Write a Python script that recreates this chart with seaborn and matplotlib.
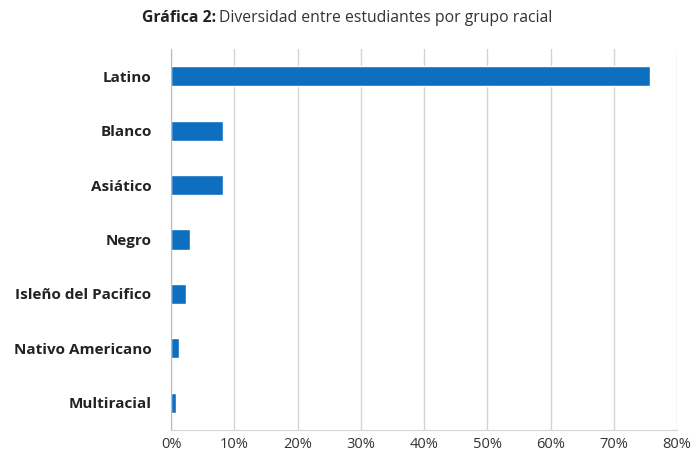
import pandas as pd
import numpy as np
import matplotlib.pyplot as plt
import seaborn as sns

grupos = ['Latino', 'Blanco', 'Asiático', 'Negro', 'Isleño del Pacifico',
          'Nativo Americano', 'Multiracial']
porcentajes = [75.8, 8.2, 8.2, 3.0, 2.3, 1.3, 0.8]

data = pd.DataFrame({'grupo': grupos, 'pct': porcentajes})

sns.set_style('white')
plt.rcParams['font.family'] = ['Open Sans', 'DejaVu Sans']

fig = plt.figure(figsize=(6.93, 4.63), dpi=100)
ax = fig.add_axes([171 / 693, 33 / 463, 506 / 693, 381 / 463])

sns.barplot(data=data, x='pct', y='grupo', color='#0E6FC1', width=0.37,
            saturation=1, ax=ax)

ax.set_xlim(0, 80)
ax.set_xticks(np.arange(0, 81, 10))
ax.set_xticklabels([f'{v}%' for v in range(0, 81, 10)], fontsize=10.5, color='#333333')
ax.set_yticklabels(grupos, fontsize=11, fontweight='bold', color='#222222')
ax.tick_params(axis='y', length=0, pad=14)
ax.tick_params(axis='x', length=0, pad=5)
ax.set_xlabel('')
ax.set_ylabel('')

ax.grid(axis='x', color='#d4d4d4', linewidth=1)
ax.set_axisbelow(True)
for s in ['top', 'right']:
    ax.spines[s].set_visible(False)
ax.spines['left'].set_color('#b8b8b8')
ax.spines['bottom'].set_color('#d4d4d4')

# titulo con parte en negrita
t1 = fig.text(142 / 693, 1 - 18 / 463, 'Gráfica 2:', fontsize=11.3, fontweight='bold',
              va='center', ha='left', color='#222222')
fig.canvas.draw()
bb = t1.get_window_extent()
x2 = bb.x1 / fig.bbox.width + 3 / 693
fig.text(x2, 1 - 18 / 463, 'Diversidad entre estudiantes por grupo racial', fontsize=11.3,
         va='center', ha='left', color='#333333')

plt.savefig('out.png', dpi=100)
